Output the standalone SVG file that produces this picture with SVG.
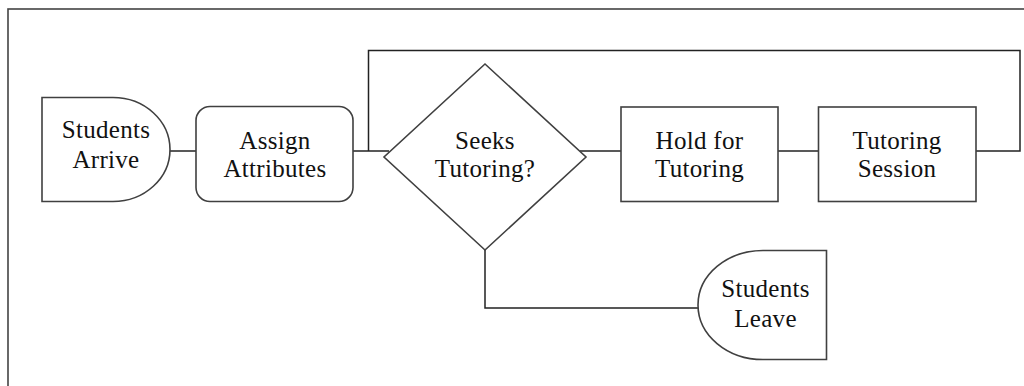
<svg xmlns="http://www.w3.org/2000/svg" width="1024" height="386" viewBox="0 0 1024 386">
<style>
.shape{fill:#fff;stroke:#404040;stroke-width:1.6}
.conn{fill:none;stroke:#222;stroke-width:1.5}
.frame{fill:#fff;stroke:#444;stroke-width:1.6}
text{font-family:"Liberation Serif","Times New Roman",serif;font-size:25px;letter-spacing:0.3px;fill:#111;text-anchor:middle}
</style>
<rect class="frame" x="8" y="9" width="1040" height="400"/>
<g id="connectors">
<path class="conn" d="M170 151 H196"/>
<path class="conn" d="M353 151 H389"/>
<path class="conn" d="M368.5 151 V50.5 H1020 V151 H976"/>
<path class="conn" d="M580 151 H621"/>
<path class="conn" d="M778 151 H818"/>
<path class="conn" d="M485 250 V308 H698"/>
</g>
<g id="students-arrive">
<path class="shape" d="M42 97.5 H113 A57 52 0 0 1 113 201.5 H42 Z"/>
<text x="106" y="138">Students</text>
<text x="106" y="168">Arrive</text>
</g>
<g id="assign-attributes">
<rect class="shape" x="196" y="106.5" width="157" height="95" rx="14"/>
<text x="275" y="149">Assign</text>
<text x="275" y="177">Attributes</text>
</g>
<g id="seeks-tutoring">
<path class="shape" d="M485 64 L586 157 L485 250 L384 157 Z"/>
<text x="485" y="148.5">Seeks</text>
<text x="485" y="177">Tutoring?</text>
</g>
<g id="hold-for-tutoring">
<rect class="shape" x="621" y="107" width="157" height="94.5"/>
<text x="699.5" y="148.5">Hold for</text>
<text x="699.5" y="177">Tutoring</text>
</g>
<g id="tutoring-session">
<rect class="shape" x="818.5" y="107" width="157.5" height="94.5"/>
<text x="897" y="148.5">Tutoring</text>
<text x="897" y="177">Session</text>
</g>
<g id="students-leave">
<path class="shape" d="M826.5 250.5 V359.5 H763 A65 54.5 0 0 1 763 250.5 Z"/>
<text x="765.5" y="297">Students</text>
<text x="765.5" y="327">Leave</text>
</g>
</svg>
